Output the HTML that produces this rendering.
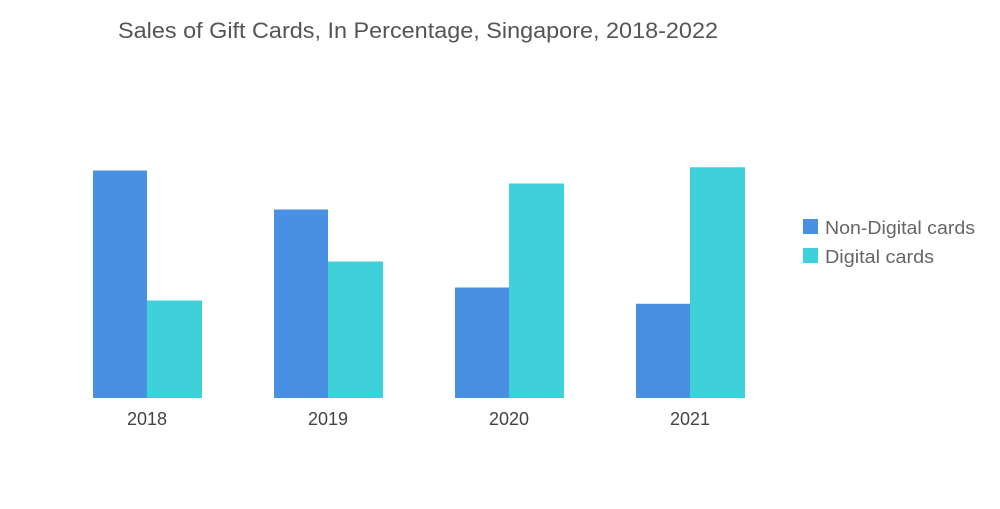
<!DOCTYPE html>
<html><head><meta charset="utf-8"><style>
body{margin:0;background:#fff;font-family:"Liberation Sans",sans-serif;}
svg text{font-family:"Liberation Sans",sans-serif;}
</style></head><body>
<svg width="1000" height="504" xmlns="http://www.w3.org/2000/svg">
<rect width="1000" height="504" fill="#fff"/>
<text x="118" y="38" font-size="22" fill="#555" textLength="600" lengthAdjust="spacingAndGlyphs">Sales of Gift Cards, In Percentage, Singapore, 2018-2022</text>
<g id="bars"></g>
<g id="xlabels"></g>
<g>
<rect x="803" y="219" width="15" height="15" fill="#4a90e2"/>
<text x="825" y="234" font-size="18" fill="#666" textLength="150" lengthAdjust="spacingAndGlyphs">Non-Digital cards</text>
<rect x="803" y="248" width="15" height="15" fill="#3fd1da"/>
<text x="825" y="263" font-size="18" fill="#666" textLength="109" lengthAdjust="spacingAndGlyphs">Digital cards</text>
</g>
</svg>
<script>
const categories=["2018","2019","2020","2021"];
const nonDigital=[70,58,34,29];
const digital=[30,42,66,71];
const base=398, pxPerUnit=3.25, firstCenter=147, step=181, bw=54;
const y=v=>base-v*pxPerUnit;
const x=i=>firstCenter+i*step;
const ns="http://www.w3.org/2000/svg";
const g=document.getElementById('bars'), xl=document.getElementById('xlabels');
categories.forEach((c,i)=>{
  const r1=document.createElementNS(ns,'rect');
  r1.setAttribute('x',x(i)-bw);r1.setAttribute('y',y(nonDigital[i]));
  r1.setAttribute('width',bw);r1.setAttribute('height',base-y(nonDigital[i]));
  r1.setAttribute('fill','#4a90e2');
  
  
  g.appendChild(r1);
  const r2=document.createElementNS(ns,'rect');
  r2.setAttribute('x',x(i));r2.setAttribute('y',y(digital[i]));
  r2.setAttribute('width',bw+1);r2.setAttribute('height',base-y(digital[i]));
  r2.setAttribute('fill','#3fd1da');
  
  
  g.appendChild(r2);
  const t=document.createElementNS(ns,'text');
  t.setAttribute('x',x(i));t.setAttribute('y',425);
  t.setAttribute('text-anchor','middle');t.setAttribute('font-size','18');t.setAttribute('fill','#444');
  t.textContent=c;
  
  
  xl.appendChild(t);
});
</script>
</body></html>
